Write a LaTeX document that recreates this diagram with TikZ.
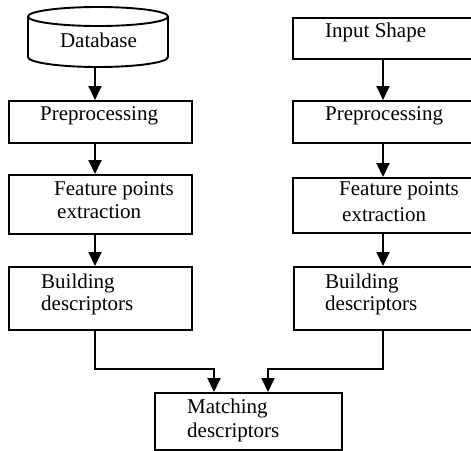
\documentclass[tikz,border=0pt]{standalone}
\usepackage{fontspec}
\setmainfont{Liberation Serif}
\usetikzlibrary{arrows.meta}
\begin{document}
\begin{tikzpicture}[x=1pt,y=-1pt,
  box/.style={draw,line width=1.9pt,rectangle,inner sep=0pt,anchor=north west},
  lbl/.style={anchor=base west,inner sep=0pt,font=\fontsize{21}{25}\selectfont},
  arr/.style={line width=1.9pt,-{Triangle[width=13pt,length=14pt]}}]
\useasboundingbox (0,0) rectangle (471,450);
\clip (0,0) rectangle (471,450);
% database cylinder
\node[inner sep=0pt,minimum width=140pt,minimum height=60pt] (db) at (98,37) {};
\draw[line width=1.9pt] (28,16.5) -- (28,57) arc[start angle=180,end angle=360,x radius=70pt,y radius=10pt] -- (168,16.5);
\draw[line width=1.9pt] (98,16.5) ellipse[x radius=70pt,y radius=9.5pt];
\node[lbl,anchor=base] (dbt) at (98.5,47) {Database};
% left column
\node[box,minimum width=183pt,minimum height=42pt] (pp1) at (8,100) {};
\node[box,minimum width=183pt,minimum height=59pt] (ft1) at (8,174) {};
\node[box,minimum width=183pt,minimum height=63pt] (bd1) at (8,266) {};
\node[lbl] (pp1t) at (40,120) {Preprocessing};
\node[lbl] (ft1a) at (54,195) {Feature points};
\node[lbl] (ft1b) at (57,218) {extraction};
\node[lbl] (bd1a) at (41,288) {Building};
\node[lbl] (bd1b) at (41,310) {descriptors};
% right column
\node[box,minimum width=190pt,minimum height=41pt] (in2) at (292,17) {};
\node[box,minimum width=190pt,minimum height=42pt] (pp2) at (292,100) {};
\node[box,minimum width=190pt,minimum height=55pt] (ft2) at (292,177) {};
\node[box,minimum width=190pt,minimum height=63pt] (bd2) at (293,266) {};
\node[lbl] (in2t) at (325,37) {Input Shape};
\node[lbl] (pp2t) at (325,120) {Preprocessing};
\node[lbl] (ft2a) at (339,195) {Feature points};
\node[lbl] (ft2b) at (342,221) {extraction};
\node[lbl] (bd2a) at (325,288) {Building};
\node[lbl] (bd2b) at (325,310) {descriptors};
% matching
\node[box,minimum width=187pt,minimum height=57pt] (mt) at (154,392) {};
\node[lbl] (mta) at (187,413) {Matching};
\node[lbl] (mtb) at (187,437) {descriptors};
% connectors
\coordinate (lx) at (95,0);
\coordinate (rx) at (383,0);
\coordinate (jl) at (214,369);
\coordinate (jr) at (268,369);
\draw[arr] (db.south -| lx) -- (pp1.north -| lx);
\draw[arr] (pp1.south -| lx) -- (ft1.north -| lx);
\draw[arr] (ft1.south -| lx) -- (bd1.north -| lx);
\draw[arr] (in2.south -| rx) -- (pp2.north -| rx);
\draw[arr] (pp2.south -| rx) -- (ft2.north -| rx);
\draw[arr] (ft2.south -| rx) -- (bd2.north -| rx);
\draw[arr] (bd1.south -| lx) |- (jl) -- (mt.north -| jl);
\draw[arr] (bd2.south -| rx) |- (jr) -- (mt.north -| jr);
\end{tikzpicture}
\end{document}
